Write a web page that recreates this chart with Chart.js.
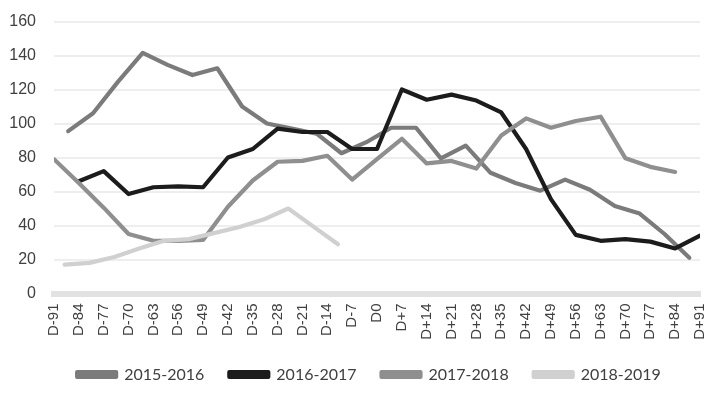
<!DOCTYPE html>
<html>
<head>
<meta charset="utf-8">
<script src="https://cdn.jsdelivr.net/npm/chart.js@4.4.1/dist/chart.umd.min.js"></script>
<style>
  html, body { margin: 0; padding: 0; background: #fff; }
  #wrap { width: 728px; height: 396px; }
</style>
</head>
<body>
<div id="wrap"><canvas id="seasonChart"></canvas></div>
<script>
// x axis: days relative to D0, one tick per week
const dayTicks = [-91, -84, -77, -70, -63, -56, -49, -42, -35, -28, -21, -14, -7, 0,
  7, 14, 21, 28, 35, 42, 49, 56, 63, 70, 77, 84, 91];
const dayLabels = ['D-91', 'D-84', 'D-77', 'D-70', 'D-63', 'D-56', 'D-49', 'D-42', 'D-35',
  'D-28', 'D-21', 'D-14', 'D-7', 'D0', 'D+7', 'D+14', 'D+21', 'D+28', 'D+35', 'D+42',
  'D+49', 'D+56', 'D+63', 'D+70', 'D+77', 'D+84', 'D+91'];

// each season was sampled on its own weekday, so days differ a little
const days1516 = [-87, -80, -73, -66, -59, -52, -45, -38, -31, -24, -17, -10, -3,
  4, 11, 18, 25, 32, 39, 46, 53, 60, 67, 74, 81, 88];
const vals1516 = [95.5, 106, 124.5, 141.5, 134.5, 128.5, 132.5, 110, 100, 97, 94, 82.5, 89,
  97.5, 97.5, 79.5, 87, 71, 65, 60.5, 67, 61, 51.5, 47, 35, 21];

const days1617 = [-84, -77, -70, -63, -56, -49, -42, -35, -28, -21, -14, -7, 0,
  7, 14, 21, 28, 35, 42, 49, 56, 63, 70, 77, 84, 91];
const vals1617 = [66, 72, 58.5, 62.5, 63, 62.5, 80, 85, 97, 95, 95, 85, 85,
  120, 114, 117, 113.5, 106.5, 85, 55.5, 34.5, 31, 32, 30.5, 26.5, 34];

const days1718 = [-91, -84, -77, -70, -63, -56, -49, -42, -35, -28, -21, -14, -7, 0,
  7, 14, 21, 28, 35, 42, 49, 56, 63, 70, 77, 84];
const vals1718 = [79, 65, 50.5, 35, 31, 31, 31.5, 51, 66.5, 77.5, 78, 81, 67, 79,
  91, 76.5, 78, 73.5, 93, 103, 97.5, 101.5, 104, 79.5, 74.5, 71.5];

const days1819 = [-88, -81, -74, -67, -60, -53, -46, -39, -32, -25, -18, -11];
const vals1819 = [17, 18, 21.5, 26.5, 31, 32, 35.5, 39, 43.5, 50, 39.5, 29];

const seasons = ['2015-2016', '2016-2017', '2017-2018', '2018-2019'];
const seasonColors = ['#7b7b7b', '#1c1c1c', '#8f8f8f', '#d0d0d0'];

function toPoints(days, vals) {
  return days.map((d, i) => ({ x: d, y: vals[i] }));
}

const series = [
  toPoints(days1516, vals1516),
  toPoints(days1617, vals1617),
  toPoints(days1718, vals1718),
  toPoints(days1819, vals1819)
];

// legend sits a bit right of canvas centre in the original
const legendNudge = {
  id: 'legendNudge',
  afterLayout(chart) {
    chart.legend.left += 11;
    chart.legend.right += 11;
  }
};

const ctx = document.getElementById('seasonChart').getContext('2d');

new Chart(ctx, {
  type: 'line',
  data: {
    datasets: series.map((pts, i) => ({
      label: seasons[i],
      data: pts,
      borderColor: seasonColors[i],
      backgroundColor: seasonColors[i],
      borderWidth: 4.2,
      borderJoinStyle: 'round',
      borderCapStyle: 'round',
      pointRadius: 0,
      tension: 0,
      order: 4 - i // later seasons drawn on top
    }))
  },
  plugins: [legendNudge],
  options: {
    responsive: true,
    maintainAspectRatio: false,
    animation: false,
    layout: { padding: { top: 21.5, right: 12, left: 0, bottom: 3.5 } },
    plugins: {
      tooltip: { enabled: false },
      legend: {
        position: 'bottom',
        labels: {
          sort: (a, b) => a.datasetIndex - b.datasetIndex,
          boxWidth: 39,
          boxHeight: 5,
          padding: 25,
          color: '#404040',
          font: { family: 'Lato, "Liberation Sans", sans-serif', size: 16 }
        }
      }
    },
    scales: {
      x: {
        type: 'linear',
        min: -91,
        max: 91,
        afterBuildTicks: (scale) => {
          scale.ticks = dayTicks.map(v => ({ value: v }));
        },
        afterFit: (scale) => { scale.height = 48; },
        grid: { display: false, drawTicks: false },
        border: { display: true, color: '#e2e2e2', width: 6, dash: [1, 1] },
        ticks: {
          autoSkip: false,
          minRotation: 90,
          maxRotation: 90,
          padding: 10,
          color: '#404040',
          font: { family: '"Liberation Sans", Arial, sans-serif', size: 15 },
          callback: (value, index) => dayLabels[index]
        }
      },
      y: {
        min: 0,
        max: 160,
        afterFit: (scale) => {
          scale.width = 54;
          scale.paddingTop = 0;
          scale.paddingBottom = 0;
        },
        grid: {
          color: (c) => c.tick && c.tick.value === 0 ? 'rgba(0,0,0,0)' : '#eeeeee',
          lineWidth: 2,
          drawTicks: false
        },
        border: { display: false },
        ticks: {
          stepSize: 20,
          padding: 18,
          color: '#404040',
          font: { family: '"Liberation Sans", Arial, sans-serif', size: 16 }
        }
      }
    }
  }
});
</script>
</body>
</html>
